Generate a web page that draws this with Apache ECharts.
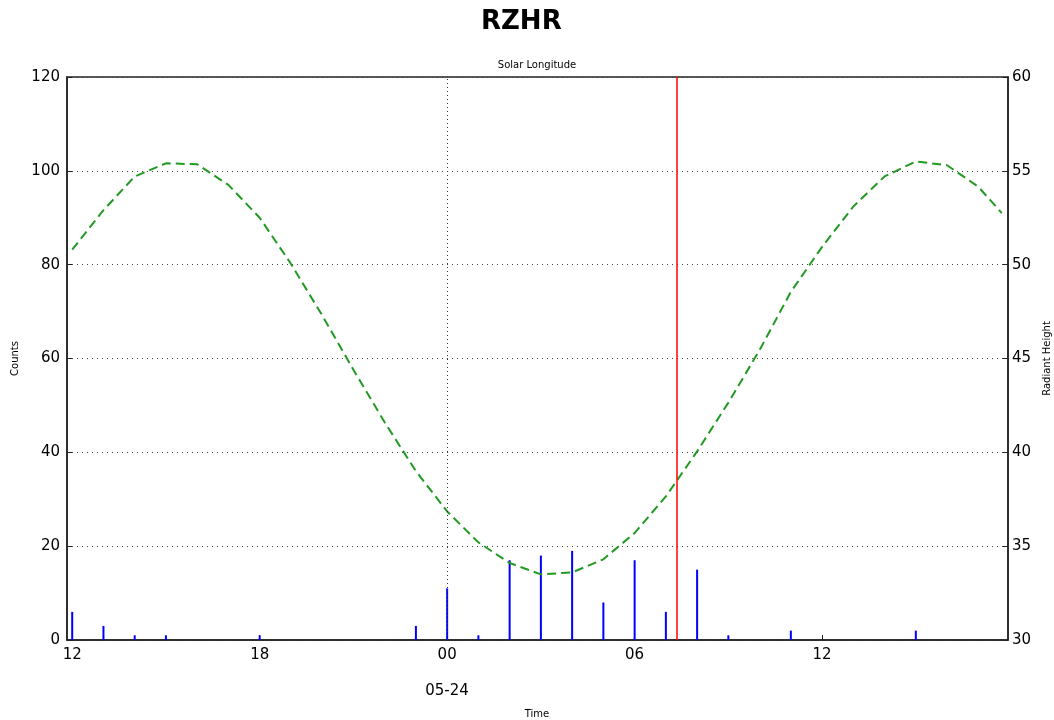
<!DOCTYPE html>
<html style="height: 100%">
<head>
    <meta charset="utf-8">
    <script type="text/javascript" src="https://cdn.jsdelivr.net/npm/echarts@6/dist/echarts.min.js"></script>
</head>
<body style="height: 100%; margin: 0">
<div id="container" style="height: 720px;width: 1054px"></div>
<script type="text/javascript">
    // hourly meteor counts
    var countTimes = [
        '2015-05-23 12:00', '2015-05-23 13:00', '2015-05-23 14:00', '2015-05-23 15:00',
        '2015-05-23 16:00', '2015-05-23 17:00', '2015-05-23 18:00', '2015-05-23 19:00',
        '2015-05-23 20:00', '2015-05-23 21:00', '2015-05-23 22:00', '2015-05-23 23:00',
        '2015-05-24 00:00', '2015-05-24 01:00', '2015-05-24 02:00', '2015-05-24 03:00',
        '2015-05-24 04:00', '2015-05-24 05:00', '2015-05-24 06:00', '2015-05-24 07:00',
        '2015-05-24 08:00', '2015-05-24 09:00', '2015-05-24 10:00', '2015-05-24 11:00',
        '2015-05-24 12:00', '2015-05-24 13:00', '2015-05-24 14:00', '2015-05-24 15:00',
        '2015-05-24 16:00', '2015-05-24 17:00'
    ];
    var counts = [6, 3, 1, 1, 0, 0, 1, 0, 0, 0, 0, 3,
                  11, 1, 17, 18, 19, 8, 17, 6, 15, 1, 0, 2,
                  0, 0, 0, 2, 0, 0];

    // radiant height (right axis)
    var heightTimes = countTimes.concat(['2015-05-24 17:45']);
    var heights = [50.8, 52.9, 54.7, 55.4, 55.35, 54.25, 52.5, 50.05, 47.3, 44.4, 41.6, 39.0,
                   36.85, 35.2, 34.1, 33.5, 33.6, 34.3, 35.7, 37.65, 40.05, 42.65, 45.45, 48.55,
                   50.95, 53.1, 54.7, 55.5, 55.3, 54.15, 52.75];

    var xTicks = ['2015-05-23 12:00', '2015-05-23 18:00', '2015-05-24 00:00',
                  '2015-05-24 06:00', '2015-05-24 12:00'];
    var midnight = '2015-05-24 00:00';
    var nowTime = '2015-05-24 07:20';

    function ts(s) { return echarts.time.parse(s).getTime(); }
    function pad(n) { return (n < 10 ? '0' : '') + n; }

    var font = 'DejaVu Sans';
    var dom = document.getElementById("container");
    var myChart = echarts.init(dom);
    var option = {
        animation: false,
        textStyle: {fontFamily: font},
        graphic: [
            {type: 'text', left: 481, top: 9, style: {text: 'RZHR', font: 'bold 26px ' + font, fill: '#000'}},
            {type: 'text', x: 537, y: 65, style: {text: 'Solar Longitude', font: '10px ' + font, fill: '#000', align: 'center', verticalAlign: 'middle'}},
            {type: 'text', x: 447, y: 691, style: {text: '05-24', font: '15px ' + font, fill: '#000', align: 'center', verticalAlign: 'middle'}},
            {type: 'text', x: 537, y: 714, style: {text: 'Time', font: '10px ' + font, fill: '#000', align: 'center', verticalAlign: 'middle'}}
        ],
        grid: {
            left: 67, right: 46, top: 77, bottom: 80,
            outerBoundsMode: 'none', containLabel: false,
            show: true, borderColor: '#222', borderWidth: 1.5
        },
        xAxis: {
            type: 'value',
            min: ts('2015-05-23 11:50'),
            max: ts('2015-05-24 17:57'),
            axisLine: {lineStyle: {color: '#222', width: 1.5}},
            axisTick: {inside: true, length: 5, lineStyle: {color: '#222'}, customValues: xTicks.map(ts)},
            axisLabel: {
                customValues: xTicks.map(ts),
                color: '#000', fontSize: 15, margin: 8, fontFamily: font,
                formatter: function (v) { return pad(new Date(v).getHours()); }
            },
            splitLine: {show: false}
        },
        yAxis: [
            {
                type: 'value', min: 0, max: 120, interval: 20,
                name: 'Counts', nameLocation: 'middle', nameGap: 46,
                nameTextStyle: {fontSize: 10, color: '#000', fontFamily: font},
                axisLine: {show: true, lineStyle: {color: '#222', width: 1.5}},
                axisTick: {show: true, inside: true, length: 5, lineStyle: {color: '#222'}},
                axisLabel: {color: '#000', fontSize: 15, margin: 7, fontFamily: font},
                splitLine: {show: true, lineStyle: {color: '#444', type: [1, 4], width: 1}}
            },
            {
                type: 'value', min: 30, max: 60, interval: 5,
                name: 'Radiant Height', nameLocation: 'middle', nameGap: 32, nameRotate: 90,
                nameTextStyle: {fontSize: 10, color: '#000', fontFamily: font},
                axisLine: {show: true, lineStyle: {color: '#222', width: 1.5}},
                axisTick: {show: true, inside: true, length: 5, lineStyle: {color: '#222'}},
                axisLabel: {color: '#000', fontSize: 15, margin: 4, fontFamily: font},
                splitLine: {show: false}
            }
        ],
        series: [
            {
                type: 'bar',
                yAxisIndex: 0,
                barWidth: 2,
                itemStyle: {color: '#0000ff'},
                data: countTimes.map(function (t, i) { return [ts(t), counts[i]]; }),
                markLine: {
                    silent: true,
                    symbol: 'none',
                    label: {show: false},
                    data: [
                        {xAxis: ts(midnight), lineStyle: {color: '#333', type: [1, 3], width: 1}},
                        {xAxis: ts(nowTime), lineStyle: {color: '#ff0000', type: 'solid', width: 1.5}}
                    ]
                }
            },
            {
                type: 'line',
                yAxisIndex: 1,
                showSymbol: false,
                lineStyle: {color: '#229922', width: 2, type: [9, 5]},
                data: heightTimes.map(function (t, i) { return [ts(t), heights[i]]; })
            }
        ]
    };
    myChart.setOption(option);
</script>
</body>
</html>
